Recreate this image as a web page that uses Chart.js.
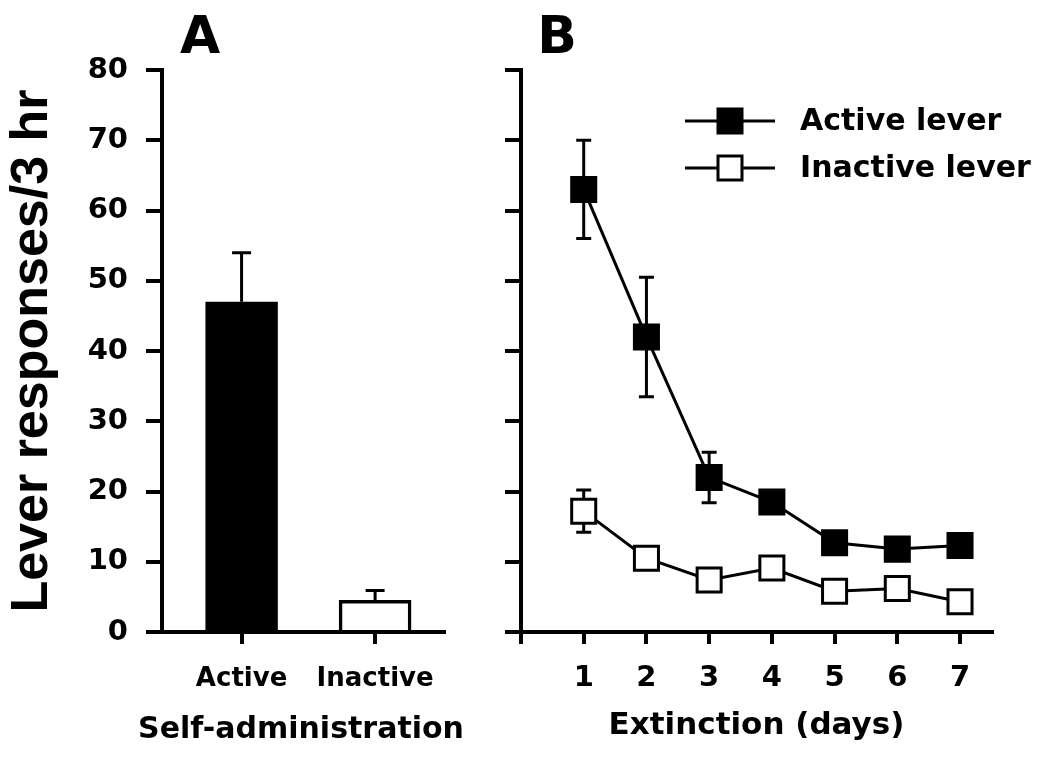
<!DOCTYPE html>
<html>
<head>
<meta charset="utf-8">
<script src="https://cdn.jsdelivr.net/npm/chart.js@4.4.1/dist/chart.umd.min.js"></script>
<style>
html, body { margin: 0; padding: 0; background: #fff; }
#wrap { position: relative; width: 1050px; height: 758px; }
#boxA { position: absolute; left: 0; top: 0; width: 520px; height: 758px; }
#boxB { position: absolute; left: 460px; top: 0; width: 590px; height: 758px; }
</style>
</head>
<body>
<div id="wrap">
  <div id="boxA"><canvas id="chartA"></canvas></div>
  <div id="boxB"><canvas id="chartB"></canvas></div>
</div>
<script>
// panel A: self-administration
const barCategories = ["Active", "Inactive"];
const barPositions = [1, 2];
const barMeans = [47, 4.5];
const barSem = [7, 1.4];

// panel B: extinction
const days = [1, 2, 3, 4, 5, 6, 7];
const activeMeans = [63, 42, 22, 18.5, 12.7, 11.8, 12.3];
const activeSem = [7, 8.5, 3.6, 1.2, 1.2, 1.5, 1.1];
const inactiveMeans = [17.2, 10.5, 7.4, 9.1, 5.8, 6.2, 4.3];
const inactiveSem = [3, 0.9, 0.4, 1.1, 0.5, 0.7, 0.4];

const yTicks = [0, 10, 20, 30, 40, 50, 60, 70, 80];

const FONT = "'DejaVu Sans', sans-serif";
const BLACK = "#000";

Chart.defaults.font.family = FONT;
Chart.defaults.color = BLACK;

// draws SEM whiskers under the marks
const errorBars = {
    id: "errorBars",
    beforeDatasetsDraw(chart, args, opts) {
        const ctx = chart.ctx;
        const xs = chart.scales.x, ys = chart.scales.y;
        ctx.save();
        ctx.strokeStyle = BLACK;
        ctx.lineWidth = 3;
        chart.data.datasets.forEach(ds => {
            ds.data.forEach((p, i) => {
                const e = ds.sem[i];
                const x = xs.getPixelForValue(p.x);
                const top = ys.getPixelForValue(p.y + e);
                const bot = ys.getPixelForValue(opts.upOnly ? p.y : p.y - e);
                ctx.beginPath();
                ctx.moveTo(x, top); ctx.lineTo(x, bot);
                ctx.moveTo(x - opts.cap / 2, top); ctx.lineTo(x + opts.cap / 2, top);
                if (!opts.upOnly) { ctx.moveTo(x - opts.cap / 2, bot); ctx.lineTo(x + opts.cap / 2, bot); }
                ctx.stroke();
            });
        });
        ctx.restore();
    }
};

// panel letter, wide x title (scale titles get squeezed) and panel B legend
const panelDeco = {
    id: "panelDeco",
    afterDraw(chart, args, opts) {
        const ctx = chart.ctx;
        const area = chart.chartArea;
        ctx.save();
        ctx.fillStyle = BLACK;
        ctx.textAlign = "center";
        ctx.textBaseline = "alphabetic";
        ctx.font = "bold 52px " + FONT;
        ctx.fillText(opts.letter, opts.letterX, opts.letterY);
        if (opts.xTitle) {
            ctx.font = "bold 30px " + FONT;
            ctx.fillText(opts.xTitle, (area.left + area.right) / 2 - 2, opts.xTitleY);
        }
        if (opts.legend) {
            const L = opts.legend;
            chart.data.datasets.forEach((ds, i) => {
                const y = L.y + i * L.gap;
                ctx.strokeStyle = BLACK;
                ctx.lineWidth = 3;
                ctx.beginPath();
                ctx.moveTo(L.x0, y); ctx.lineTo(L.x1, y);
                ctx.stroke();
                const s = 24;
                const mx = (L.x0 + L.x1) / 2;
                ctx.fillStyle = ds.pointBackgroundColor;
                ctx.fillRect(mx - s / 2, y - s / 2, s, s);
                ctx.strokeRect(mx - s / 2, y - s / 2, s, s);
                ctx.fillStyle = BLACK;
                ctx.textAlign = "left";
                ctx.textBaseline = "middle";
                ctx.font = "bold 30px " + FONT;
                ctx.fillText(ds.label, L.textX, y + 1);
            });
        }
        ctx.restore();
    }
};

function axisGrid(len) {
    return {drawOnChartArea: false, drawTicks: true, tickLength: len, color: BLACK, lineWidth: 4, offset: false};
}

new Chart(document.getElementById("chartA"), {
    type: "bar",
    data: {
        datasets: [{
            label: "Self-administration",
            data: barPositions.map((x, i) => ({x: x, y: barMeans[i]})),
            sem: barSem,
            backgroundColor: [BLACK, "#fff"],
            borderColor: BLACK,
            borderWidth: 3.5,
            barThickness: 72
        }]
    },
    options: {
        responsive: true,
        maintainAspectRatio: false,
        animation: false,
        layout: {padding: {top: 70, right: 76, bottom: 0, left: 0}},
        plugins: {
            legend: {display: false},
            tooltip: {enabled: false},
            errorBars: {cap: 19, upOnly: true},
            panelDeco: {letter: "A", letterX: 200, letterY: 53, xTitle: "Self-administration", xTitleY: 738}
        },
        scales: {
            x: {
                type: "linear", min: 0.404, max: 2.516, offset: false,
                afterBuildTicks: s => { s.ticks = barPositions.map(v => ({value: v})); },
                afterFit: s => { s.height = 126; },
                ticks: {
                    callback: v => barCategories[barPositions.indexOf(v)] || "",
                    font: {size: 26, weight: "bold"}, padding: 20, maxRotation: 0, autoSkip: false
                },
                grid: axisGrid(12),
                border: {color: BLACK, width: 4}
            },
            y: {
                min: 0, max: 80,
                afterBuildTicks: s => { s.ticks = yTicks.map(v => ({value: v})); },
                afterFit: s => { s.width = 162; },
                ticks: {font: {size: 29, weight: "bold"}, padding: 18},
                grid: axisGrid(16),
                border: {color: BLACK, width: 4},
                title: {
                    display: true, text: "Lever responses/3 hr",
                    font: {family: "'Liberation Sans', Arial, sans-serif", size: 52, weight: "bold"},
                    padding: {top: 1, bottom: 0}
                }
            }
        }
    },
    plugins: [errorBars, panelDeco]
});

function lineSet(label, means, sem, fill) {
    return {
        label: label,
        data: days.map((d, i) => ({x: d, y: means[i]})),
        sem: sem,
        borderColor: BLACK,
        borderWidth: 3,
        tension: 0,
        pointStyle: "rect",
        pointRadius: 17,
        pointBackgroundColor: fill,
        pointBorderColor: BLACK,
        pointBorderWidth: 3
    };
}

new Chart(document.getElementById("chartB"), {
    type: "line",
    data: {
        datasets: [
            lineSet("Active lever", activeMeans, activeSem, BLACK),
            lineSet("Inactive lever", inactiveMeans, inactiveSem, "#fff")
        ]
    },
    options: {
        responsive: true,
        maintainAspectRatio: false,
        animation: false,
        layout: {padding: {top: 70, right: 58, bottom: 0, left: 0}},
        plugins: {
            legend: {display: false},
            tooltip: {enabled: false},
            errorBars: {cap: 15, upOnly: false},
            panelDeco: {
                letter: "B", letterX: 97, letterY: 53,
                legend: {x0: 225, x1: 315, y: 121, gap: 47, textX: 340}
            }
        },
        scales: {
            x: {
                type: "linear", min: 0, max: 7.51,
                afterBuildTicks: s => { s.ticks = [0].concat(days).map(v => ({value: v})); },
                afterFit: s => { s.height = 126; },
                ticks: {
                    callback: v => (v === 0 ? "" : v),
                    font: {size: 29, weight: "bold"}, padding: 17, maxRotation: 0, autoSkip: false
                },
                grid: axisGrid(12),
                border: {color: BLACK, width: 4},
                title: {display: true, text: "Extinction (days)", font: {size: 31, weight: "bold"}, padding: {top: 0, bottom: 13}}
            },
            y: {
                min: 0, max: 80,
                afterBuildTicks: s => { s.ticks = yTicks.map(v => ({value: v})); },
                afterFit: s => { s.width = 61; },
                ticks: {callback: () => "", padding: 0},
                grid: axisGrid(16),
                border: {color: BLACK, width: 4}
            }
        }
    },
    plugins: [errorBars, panelDeco]
});
</script>
</body>
</html>
